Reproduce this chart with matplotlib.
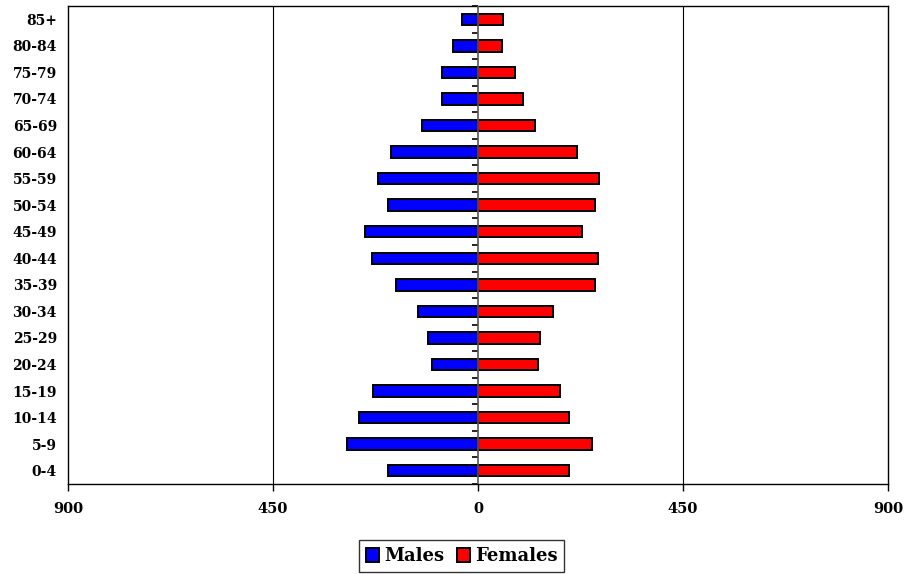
import matplotlib
matplotlib.use("Agg")
import matplotlib.pyplot as plt
import numpy as np

age_groups = ["0-4", "5-9", "10-14", "15-19", "20-24", "25-29", "30-34", "35-39",
              "40-44", "45-49", "50-54", "55-59", "60-64", "65-69", "70-74",
              "75-79", "80-84", "85+"]
males = [198, 288, 261, 230, 102, 110, 132, 180, 232, 249, 197, 220, 191, 122, 78, 78, 54, 35]
females = [199, 250, 200, 180, 132, 137, 165, 257, 263, 228, 257, 265, 218, 126, 98, 81, 53, 55]
x_ticks = [-900, -450, 0, 450, 900]
x_labels = ["900", "450", "0", "450", "900"]

plt.rcParams['font.family'] = ['DejaVu Serif']
plt.rcParams['font.weight'] = 'bold'

fig = plt.figure(figsize=(9.23, 5.74), dpi=100)
ax = fig.add_axes([68/923, 90/574, 820/923, 478/574])

y = np.arange(len(age_groups))
ax.barh(y, -np.array(males), height=0.43, color="#0000FF", edgecolor="black",
        linewidth=1.4, label="Males", zorder=3)
ax.barh(y, females, height=0.43, color="#FF0000", edgecolor="black",
        linewidth=1.4, label="Females", zorder=3)

ax.set_xlim(-900, 900)
ax.set_ylim(-0.5, len(age_groups) - 0.5)
ax.set_xticks(x_ticks)
ax.set_xticklabels(x_labels, fontsize=10.5, fontweight='bold')
ax.tick_params(axis='x', direction='out', length=5, width=1, pad=8)
ax.set_yticks(y)
ax.set_yticklabels(age_groups, fontsize=10, fontweight='bold')
ax.tick_params(axis='y', length=0, pad=8)

for v in (-450, 450):
    ax.axvline(v, color='black', linewidth=0.8, zorder=1)
ax.axvline(0, color='#555555', linewidth=1.2, zorder=4)

sec = ax.secondary_yaxis(0.5)
sec.set_yticks(np.arange(len(age_groups) + 1) - 0.5)
sec.set_yticklabels([])
sec.tick_params(axis='y', direction='in', length=4, width=1.2, color='black')
sec.spines['left'].set_visible(False)
sec.spines['right'].set_visible(False)

for s in ax.spines.values():
    s.set_linewidth(1.0)
    s.set_color('black')

leg = fig.legend(loc='center', bbox_to_anchor=(0.5, 0.031), ncol=2,
                 prop={'size': 13, 'weight': 'bold'}, frameon=True, fancybox=False,
                 handlelength=0.75, handleheight=0.75, handletextpad=0.25,
                 columnspacing=0.7, borderpad=0.4, borderaxespad=0.2, edgecolor='black')
leg.get_frame().set_linewidth(1.0)

fig.savefig("out.png", dpi=100)
